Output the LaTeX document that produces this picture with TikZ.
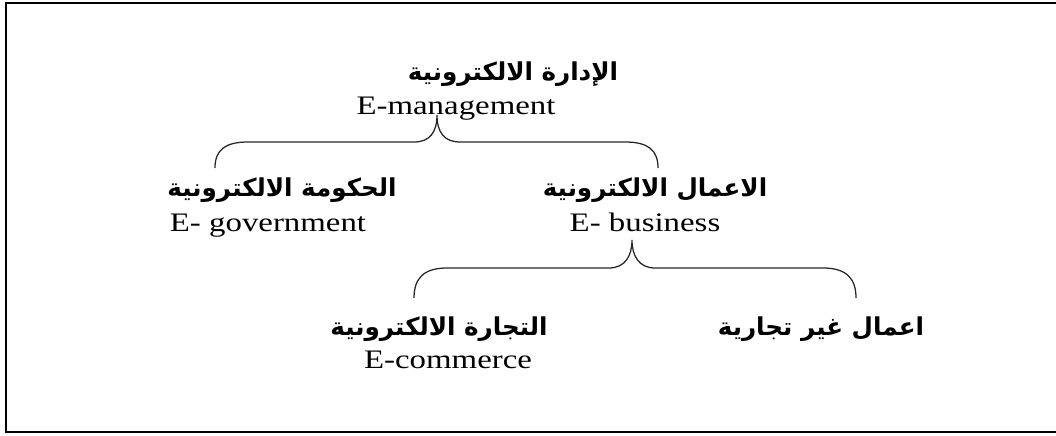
\documentclass[tikz,border=0pt]{standalone}
\usepackage{fontspec}
\setmainfont{Liberation Serif}[FakeStretch=1.23]
\newfontfamily\arabicfont[Script=Arabic]{DejaVu Sans}
\TeXXeTstate=1
\usetikzlibrary{positioning}
\tikzset{
  ar/.style={font=\arabicfont\bfseries\fontsize{17.5}{20}\selectfont,inner sep=0pt},
  en/.style={font=\fontsize{19}{22}\selectfont,inner sep=0pt,anchor=base},
  brace/.style={line width=0.9pt,black!85},
}
\newcommand{\ar}[1]{\beginR #1\endR}

\begin{document}
\begin{tikzpicture}
[x=0.025cm,y=-0.025cm,semithick]
  \useasboundingbox (0,0) rectangle (1056,435);
  \draw[line width=1.5pt] (1080,3) -- (6,3) -- (6,432) -- (1080,432);
%
  \node[ar] (1)  at (513,74)  {\ar{الإدارة الالكترونية}};
  \node[en] (1a) at (456,114) {E-management};
%
  \node[ar] (2)  at (282,190) {\ar{الحكومة الالكترونية}};
  \node[en] (2a) at (268,231) {E- government};
  \node[ar] (3)  at (655,190) {\ar{الاعمال الالكترونية}};
  \node[en] (3a) at (645,231) {E- business};
%
  \node[ar] (4)  at (439,329) {\ar{التجارة الالكترونية}};
  \node[en] (4a) at (448,368) {E-commerce};
  \node[ar] (5)  at (821,329) {\ar{اعمال غير تجارية}};
%
  \coordinate (1t) at (437,115);
  \coordinate (1l) at (215,168);
  \coordinate (1r) at (658,168);
  \coordinate (3t) at (632,240);
  \coordinate (3l) at (414,298);
  \coordinate (3r) at (856,298);
%
  \draw[brace] (1l) .. controls (215,150) and (225,142) .. (248,142) -- (414,142)
    .. controls (430,142) and (437,132) .. (1t)
    .. controls (437,132) and (444,142) .. (460,142) -- (625,142)
    .. controls (648,142) and (658,150) .. (1r);
  \draw[brace] (3l) .. controls (414,278) and (424,268) .. (447,268) -- (609,268)
    .. controls (625,268) and (632,256) .. (3t)
    .. controls (632,256) and (639,268) .. (655,268) -- (823,268)
    .. controls (846,268) and (856,278) .. (3r);
\end{tikzpicture}
\end{document}
